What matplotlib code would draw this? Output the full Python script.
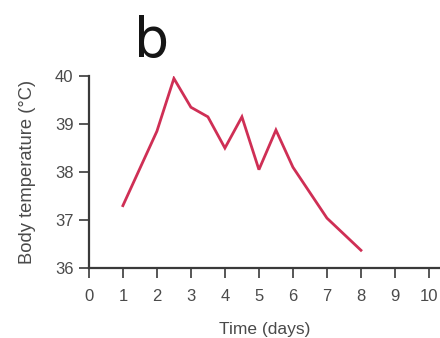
import matplotlib
matplotlib.use("Agg")
import matplotlib.pyplot as plt

plt.rcParams['font.family'] = ['Liberation Sans', 'DejaVu Sans']

# Body temperature over the course of illness
days = [1, 2, 2.5, 3, 3.5, 4, 4.5, 5, 5.5, 6, 7, 8]
temps = [37.3, 38.85, 39.95, 39.35, 39.15, 38.5, 39.15, 38.05, 38.875, 38.1, 37.04, 36.37]

x_ticks = list(range(0, 11))
y_ticks = [36, 37, 38, 39, 40]

axis_color = '#3a3a3a'
text_color = '#4a4a4a'
line_color = '#cf2f55'

fig = plt.figure(figsize=(4.40, 3.38), dpi=100)
ax = fig.add_axes([0.202, 0.207, 0.80, 0.568])

ax.plot(days, temps, color=line_color, lw=2.0, solid_joinstyle='miter')

ax.set_xlim(0, 10.35)
ax.set_ylim(36, 40)
ax.set_xticks(x_ticks)
ax.set_yticks(y_ticks)

for side in ('top', 'right'):
    ax.spines[side].set_visible(False)
for side in ('left', 'bottom'):
    ax.spines[side].set_color(axis_color)
    ax.spines[side].set_linewidth(1.6)

ax.tick_params(axis='both', direction='out', length=7.5, width=1.2,
               color=axis_color, labelcolor=text_color, labelsize=12)
ax.tick_params(axis='y', pad=3.5)
ax.tick_params(axis='x', pad=7.5)

ax.set_xlabel('Time (days)', fontsize=12.5, color=text_color, labelpad=13)
ax.set_ylabel('Body temperature (°C)', fontsize=13.2, color=text_color, labelpad=14)

# Panel letter
fig.text(0.305, 0.83, 'b', fontsize=40, color='#151515',
         family='DejaVu Sans', ha='left', va='baseline')

fig.savefig('out.png', dpi=100, facecolor='white')
